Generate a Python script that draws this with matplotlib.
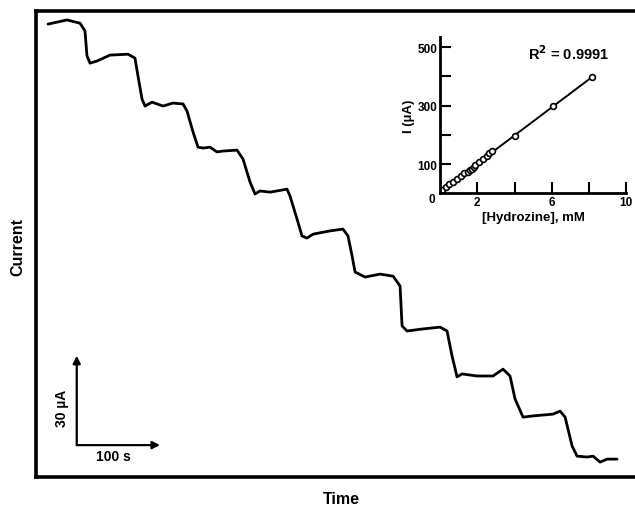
import matplotlib
matplotlib.use("Agg")
import matplotlib.pyplot as plt

plt.rcParams['font.family'] = ['Liberation Sans', 'DejaVu Sans']
plt.rcParams['font.weight'] = 'bold'
plt.rcParams['axes.labelweight'] = 'bold'

# amperometric trace, time in s, current in uA (arbitrary offset)
time_s = [14.4, 37.2, 52.8, 58.8, 61.2, 64.8, 73.2, 88.8, 110.4, 118.8,
          122.4, 127.3, 130.9, 139.3, 152.5, 164.5, 176.5, 181.3, 188.5, 194.5,
          200.5, 208.9, 217.3, 224.5, 241.3, 248.5, 256.9, 262.9, 268.9, 280.9,
          301.3, 304.9, 313.3, 319.3, 325.3, 332.5, 352.9, 368.5, 374.5, 379.4,
          383.0, 395.0, 413.0, 428.6, 437.0, 439.4, 445.4, 464.6, 485.0, 493.4,
          499.4, 505.4, 511.4, 529.4, 548.6, 560.6, 569.0, 575.0, 584.6, 596.6,
          620.6, 629.1, 635.1, 643.5, 649.5, 661.5, 668.7, 677.1, 685.5, 697.5]
current_ua = [152.0, 153.4, 152.3, 149.7, 141.3, 138.9, 139.6, 141.6, 141.9, 140.6,
              134.6, 126.8, 124.5, 125.8, 124.5, 125.5, 125.2, 122.8, 115.8, 110.7,
              110.4, 110.7, 109.1, 109.4, 109.7, 106.7, 99.0, 95.0, 96.0, 95.6,
              96.6, 94.3, 86.6, 80.9, 80.2, 81.5, 82.6, 83.2, 80.9, 74.2,
              68.8, 67.1, 68.1, 67.4, 64.1, 50.7, 49.0, 49.7, 50.3, 49.0,
              40.6, 33.6, 34.6, 33.9, 33.9, 36.2, 33.9, 26.2, 20.1, 20.5,
              21.1, 22.1, 20.1, 10.4, 7.0, 6.7, 7.0, 5.0, 6.0, 6.0]

# calibration inset
conc_mm = [0.1, 0.3, 0.5, 0.7, 0.9, 1.1, 1.3, 1.5, 1.6, 1.7, 1.8, 1.9,
           2.1, 2.3, 2.5, 2.65, 2.8, 4.03, 6.09, 8.15]
resp_ua = [12, 20, 30, 40, 50, 58, 68, 74, 80, 84, 90, 96,
           106, 118, 128, 136, 145, 197, 300, 397]
fit_x = [0.0, 8.15]
fit_y = [6, 397]

fig = plt.figure(figsize=(6.35, 5.10), dpi=100)

ax = fig.add_axes([36 / 635, 32 / 510, 599 / 635, 466 / 510])
ax.plot(time_s, current_ua, color='black', lw=2.0, solid_joinstyle='round',
        solid_capstyle='round')
ax.set_xlim(0, 719)
ax.set_ylim(0, 156.4)
ax.set_xticks([])
ax.set_yticks([])
ax.spines['right'].set_visible(False)
for s in ['left', 'top', 'bottom']:
    ax.spines[s].set_linewidth(2.6)

# scale bar
x0, y0 = 48.9, 10.7
arrow = dict(arrowstyle='-|>', color='black', lw=1.6, mutation_scale=11,
             shrinkA=0, shrinkB=0)
ax.annotate('', xy=(x0, y0 + 30), xytext=(x0, y0), arrowprops=arrow)
ax.annotate('', xy=(x0 + 100, y0), xytext=(x0, y0), arrowprops=arrow)
ax.text(30.9, 23.5, '30 µA', rotation=90, ha='center', va='center', fontsize=10)
ax.text(92.4, 7.0, '100 s', ha='center', va='center', fontsize=10)

fig.text(18 / 635, 1 - 247 / 510, 'Current', rotation=90, ha='center',
         va='center', fontsize=11.5)
fig.text(341 / 635, 1 - 500 / 510, 'Time', ha='center', va='center',
         fontsize=11.5)

# inset
ins = fig.add_axes([440.1 / 635, 1 - 194.2 / 510, 186 / 635, 155.9 / 510])
ins.plot(fit_x, fit_y, color='black', lw=1.4)
ins.plot(conc_mm, resp_ua, 'o', mfc='white', mec='black', ms=4.2, mew=1.2)
ins.set_xlim(0, 10)
ins.set_ylim(0, 534)
ins.set_xticks([2, 4, 6, 8, 10])
ins.set_xticklabels(['2', '', '6', '', '10'])
ins.set_yticks([100, 200, 300, 400, 500])
ins.set_yticklabels(['100', '', '300', '', '500'])
ins.tick_params(direction='in', length=8, width=1.5, labelsize=8.5, pad=2)
ins.spines['right'].set_visible(False)
ins.spines['top'].set_visible(False)
for s in ['left', 'bottom']:
    ins.spines[s].set_linewidth(2)
ins.set_xlabel('[Hydrozine], mM', fontsize=9.5, labelpad=2)
ins.set_ylabel('I (µA)', fontsize=9.5, labelpad=2)
ins.text(-0.045, -0.04, '0', transform=ins.transAxes, ha='center', va='center',
         fontsize=8.5)
ins.text(0.69, 0.9, 'R$^2$ = 0.9991', transform=ins.transAxes, ha='center',
         va='center', fontsize=10.5)

fig.savefig('out.png', dpi=100)
